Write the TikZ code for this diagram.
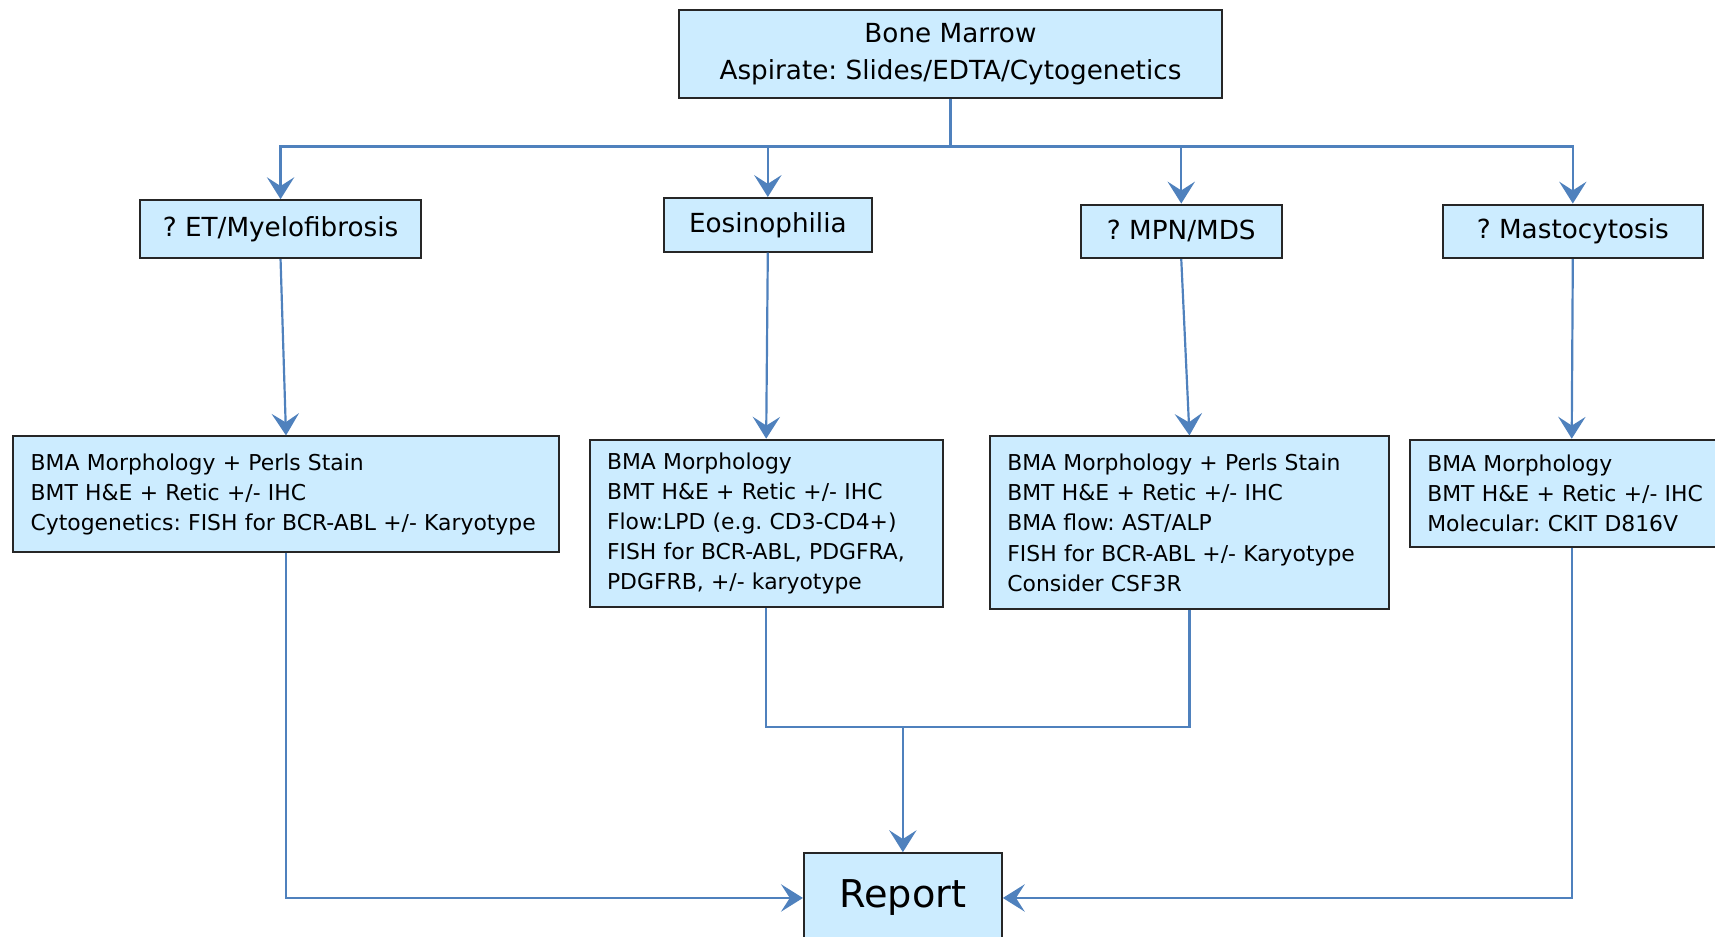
\documentclass[tikz,border=0pt]{standalone}
\usepackage{fontspec}
\setmainfont{DejaVu Sans}
\usetikzlibrary{arrows.meta, positioning}
\definecolor{boxfill}{RGB}{204,236,255}
\definecolor{linkblue}{RGB}{79,129,189}
\frenchspacing

\begin{document}
\begin{tikzpicture}[x=0.5pt, y=-0.5pt,
  >={Stealth[length=10pt, width=12.5pt, inset=4pt]},
  box/.style={draw=black!85, line width=0.9pt, fill=boxfill, inner sep=0pt},
  head/.style={box, font=\fontsize{12}{16.5}\selectfont, align=center},
  tests/.style={box, font=\fontsize{10}{13.75}\selectfont, align=left, inner xsep=8pt},
  link/.style={draw=linkblue, line width=1pt}]
\useasboundingbox (0,0) rectangle (1568,856);

\node[head, minimum width=248pt, minimum height=40.5pt](S) at (869,49.5){Bone Marrow\\Aspirate: Slides/EDTA/Cytogenetics};
\coordinate(S0) at (869,134);

\node[head, minimum width=128.5pt, minimum height=26.5pt](A1) at (256.5,209.5){? ET/Myelofibrosis};
\node[head, minimum width=95pt, minimum height=24.5pt](A2) at (702,205.5){Eosinophilia};
\node[head, minimum width=92pt, minimum height=24.5pt](A3) at (1080,211.5){? MPN/MDS};
\node[head, minimum width=119pt, minimum height=24.5pt](A4) at (1438,211.5){? Mastocytosis};

\node[tests, text width=233.5pt, minimum height=53pt](B1) at (261.5,452){BMA Morphology + Perls Stain\\BMT H\&E + Retic +/- IHC\\Cytogenetics: FISH for BCR-ABL +/- Karyotype};
\node[tests, text width=145.5pt, minimum height=76.5pt](B2) at (700.5,478.5){BMA Morphology\\BMT H\&E + Retic +/- IHC\\Flow:LPD (e.g. CD3-CD4+)\\FISH for BCR-ABL, PDGFRA,\\PDGFRB, +/- karyotype};
\node[tests, text width=166.5pt, minimum height=79pt](B3) at (1087.5,478){BMA Morphology + Perls Stain\\BMT H\&E + Retic +/- IHC\\BMA flow: AST/ALP\\FISH for BCR-ABL +/- Karyotype\\Consider CSF3R};
\node[tests, text width=132pt, minimum height=49pt](B4) at (1437,451){BMA Morphology\\BMT H\&E + Retic +/- IHC\\Molecular: CKIT D816V};

\coordinate(M) at (825.5,665);
\node[box, font=\fontsize{17.5}{20}\selectfont, minimum width=90.5pt, minimum height=41pt](R) at (825.5,821){Report};

\draw[link](S.south)--(S0);
\draw[link, line width=0.8pt](A1.north|-S0)--(A4.north|-S0);
\draw[link,->](S0)-|(A1.north);
\draw[link,->](S0)-|(A2.north);
\draw[link,->](S0)-|(A3.north);
\draw[link,->](S0)-|(A4.north);

\draw[link,->](A1.south)--(B1.north);
\draw[link,->](A2.south)--(B2.north);
\draw[link,->](A3.south)--(B3.north);
\draw[link,->](A4.south)--(B4.north);

\draw[link](B2.south)|-(M);
\draw[link](B3.south)|-(M);
\draw[link,->](M)--(R.north);
\draw[link,->](B1.south)|-(R.west);
\draw[link,->](B4.south)|-(R.east);
\end{tikzpicture}
\end{document}
